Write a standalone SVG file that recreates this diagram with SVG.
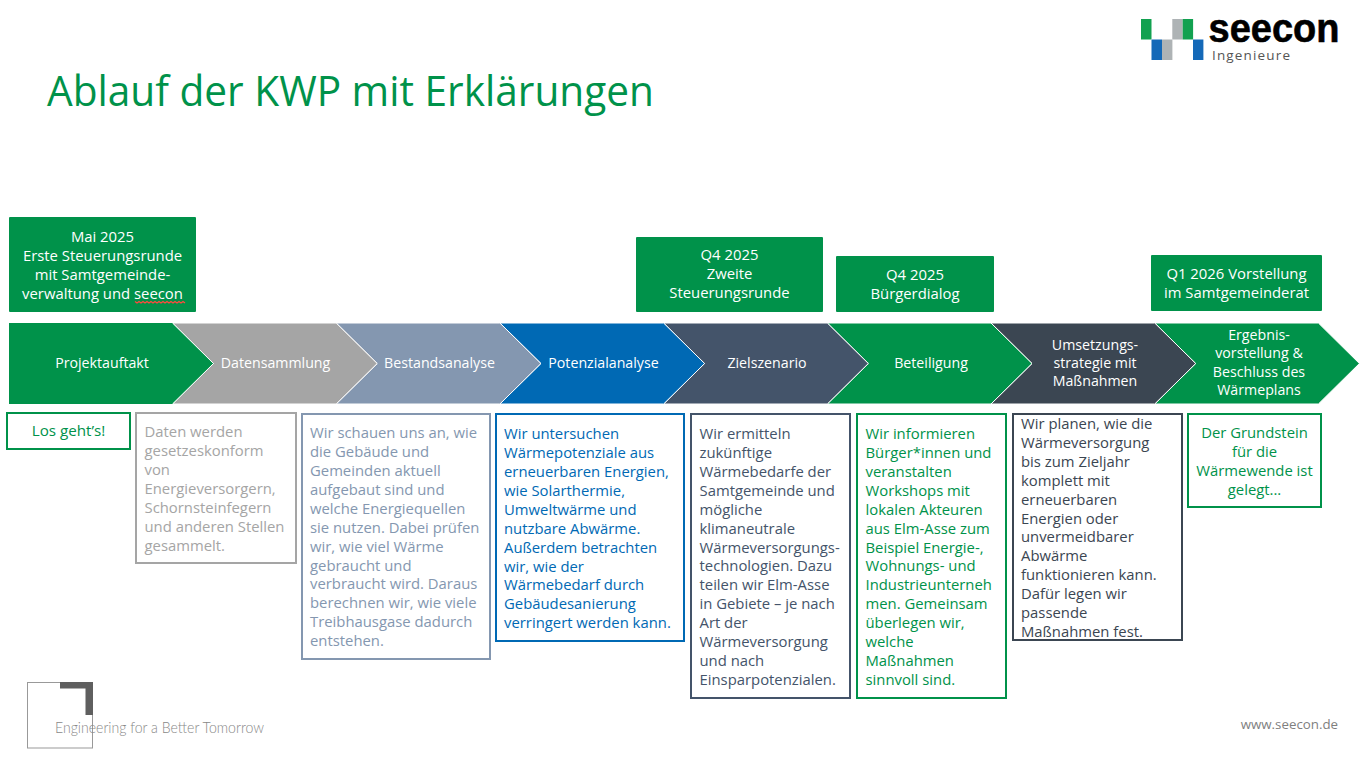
<svg xmlns="http://www.w3.org/2000/svg" width="1361" height="761" viewBox="0 0 1361 761">
<style>
text{font-family:"Open Sans","Noto Sans","Liberation Sans",sans-serif;font-size:14.85px}
.c{font-size:14.2px}
.w{fill:#fff}.m{text-anchor:middle}
.chev{stroke:#fff;stroke-width:1}
.top{fill:#00924a}
.box{fill:#fff;stroke-width:2}
.g{fill:#00924a}.bg{stroke:#00924a}
.a{fill:#a5a5a5}.ba{stroke:#a5a5a5}
.s{fill:#8497b0}.bs{stroke:#8497b0}
.b{fill:#0069b4}.bb{stroke:#0069b4}
.l{fill:#44546a}.bl{stroke:#44546a}
.d{fill:#3b4652}.bd{stroke:#3b4652}
</style>
<rect width="1361" height="761" fill="#fff"/>
<text id="title" x="47" y="106" class="g" style="font-size:41.500px;font-weight:400" textLength="607" lengthAdjust="spacingAndGlyphs">Ablauf der KWP mit Erklärungen</text>
<g id="logo">
<rect x="1141" y="19" width="10.500" height="20.500" fill="#12a150"/><rect x="1172.300" y="19" width="10.400" height="20.500" fill="#aeb3b5"/><rect x="1182.700" y="19" width="10.400" height="20.500" fill="#12a150"/>
<rect x="1151.500" y="39.500" width="10.500" height="20.500" fill="#1469b8"/><rect x="1162" y="39.500" width="10.400" height="20.500" fill="#aeb3b5"/><rect x="1193" y="39.500" width="10.400" height="20.500" fill="#1469b8"/>
<text x="1208.500" y="42" style="font-size:41px;font-weight:700;font-family:'Liberation Sans',sans-serif" fill="#000" stroke="#000" stroke-width="0.6" textLength="131" lengthAdjust="spacingAndGlyphs">seecon</text>
<text x="1212" y="59.500" style="font-size:13.500px" fill="#555" textLength="78">Ingenieure</text>
</g>
<g id="footer-mark">
<rect x="27.500" y="682.500" width="65" height="65.500" fill="none" stroke="#999"/>
<path d="M60 682H93V715H85.500V688.500H60Z" fill="#5f5f5f"/>
<text x="55" y="733" style="font-family:Lato,sans-serif;font-weight:300;font-size:16px" fill="#888" textLength="209" lengthAdjust="spacingAndGlyphs">Engineering for a Better Tomorrow</text>
</g>
<text id="url" x="1338" y="729" text-anchor="end" style="font-size:13.300px" fill="#7f7f7f">www.seecon.de</text>

<g id="connectors"></g>

<g id="step-8"><path class="chev" fill="#00924a" d="M1154.700 323H1318.400L1359.400 363.500L1318.400 404H1154.700L1195.700 363.500Z"/>
<text class="w m c"><tspan x="1259" y="340">Ergebnis-</tspan><tspan x="1259" y="358">vorstellung &amp;</tspan><tspan x="1259" y="377">Beschluss des</tspan><tspan x="1259" y="395">Wärmeplans</tspan></text></g>
<g id="step-7"><path class="chev" fill="#3b4652" d="M991 323H1154.700L1195.700 363.500L1154.700 404H991L1032 363.500Z"/>
<text class="w m c"><tspan x="1095" y="350">Umsetzungs-</tspan><tspan x="1095" y="368">strategie mit</tspan><tspan x="1095" y="386">Maßnahmen</tspan></text></g>
<g id="step-6"><path class="chev" fill="#00924a" d="M827.300 323H991L1032 363.500L991 404H827.300L868.300 363.500Z"/>
<text class="w m c" x="931" y="368">Beteiligung</text></g>
<g id="step-5"><path class="chev" fill="#44546a" d="M663.600 323H827.300L868.300 363.500L827.300 404H663.600L704.600 363.500Z"/>
<text class="w m c" x="767" y="368">Zielszenario</text></g>
<g id="step-4"><path class="chev" fill="#0069b4" d="M499.900 323H663.600L704.600 363.500L663.600 404H499.900L540.900 363.500Z"/>
<text class="w m c" x="603.500" y="368">Potenzialanalyse</text></g>
<g id="step-3"><path class="chev" fill="#8497b0" d="M336.200 323H499.900L540.900 363.500L499.900 404H336.200L377.200 363.500Z"/>
<text class="w m c" x="439.500" y="368">Bestandsanalyse</text></g>
<g id="step-2"><path class="chev" fill="#a5a5a5" d="M172.500 323H336.200L377.200 363.500L336.200 404H172.500L213.500 363.500Z"/>
<text class="w m c" x="275.500" y="368">Datensammlung</text></g>
<g id="step-1"><path d="M9 323H172.500L213.500 363.500L172.500 404H9Z" fill="#00924a"/><path class="chev" fill="none" d="M172.500 323L213.500 363.500L172.500 404"/>
<text class="w m c" x="102" y="368">Projektauftakt</text></g>

<g id="milestone-1"><rect class="top" x="9" y="217" width="187" height="95" rx="1"/>
<text class="w m"><tspan x="102.500" y="242">Mai 2025</tspan><tspan x="102.500" y="261">Erste Steuerungsrunde</tspan><tspan x="102.500" y="280">mit Samtgemeinde-</tspan><tspan x="102.500" y="299">verwaltung und seecon</tspan></text>
<path d="M135 301.500l2 1.500 2-1.500 2 1.500 2-1.500 2 1.500 2-1.500 2 1.500 2-1.500 2 1.500 2-1.500 2 1.500 2-1.500 2 1.500 2-1.500 2 1.500 2-1.500 2 1.500 2-1.500 2 1.500 2-1.500 2 1.500 2-1.500 2 1.500 2-1.500 2 1.500" fill="none" stroke="#ff4a3d" stroke-width="1.200"/></g>
<g id="milestone-2"><rect class="top" x="636" y="237" width="187" height="75" rx="1"/>
<text class="w m"><tspan x="729.500" y="260">Q4 2025</tspan><tspan x="729.500" y="279">Zweite</tspan><tspan x="729.500" y="298">Steuerungsrunde</tspan></text></g>
<g id="milestone-3"><rect class="top" x="836" y="256" width="158" height="56" rx="1"/>
<text class="w m"><tspan x="915" y="280">Q4 2025</tspan><tspan x="915" y="299">Bürgerdialog</tspan></text></g>
<g id="milestone-4"><rect class="top" x="1151" y="255" width="171" height="56" rx="1"/>
<text class="w m"><tspan x="1236.500" y="279">Q1 2026 Vorstellung</tspan><tspan x="1236.500" y="298">im Samtgemeinderat</tspan></text></g>

<g id="note-1"><rect class="box bg" x="7" y="413" width="123" height="36"/>
<text class="g m" style="font-size:15.200px" x="68.500" y="436">Los geht’s!</text></g>
<g id="note-2"><rect class="box ba" x="136" y="413" width="160" height="150"/>
<text class="a"><tspan x="144.500" y="437">Daten werden</tspan><tspan x="144.500" dy="19">gesetzeskonform</tspan><tspan x="144.500" dy="19">von</tspan><tspan x="144.500" dy="19">Energieversorgern,</tspan><tspan x="144.500" dy="19">Schornsteinfegern</tspan><tspan x="144.500" dy="19">und anderen Stellen</tspan><tspan x="144.500" dy="19">gesammelt.</tspan></text></g>
<g id="note-3"><rect class="box bs" x="302" y="414" width="188" height="245"/>
<text class="s"><tspan x="310" y="438">Wir schauen uns an, wie</tspan><tspan x="310" dy="18.930">die Gebäude und</tspan><tspan x="310" dy="18.930">Gemeinden aktuell</tspan><tspan x="310" dy="18.930">aufgebaut sind und</tspan><tspan x="310" dy="18.930">welche Energiequellen</tspan><tspan x="310" dy="18.930">sie nutzen. Dabei prüfen</tspan><tspan x="310" dy="18.930">wir, wie viel Wärme</tspan><tspan x="310" dy="18.930">gebraucht und</tspan><tspan x="310" dy="18.930">verbraucht wird. Daraus</tspan><tspan x="310" dy="18.930">berechnen wir, wie viele</tspan><tspan x="310" dy="18.930">Treibhausgase dadurch</tspan><tspan x="310" dy="18.930">entstehen.</tspan></text></g>
<g id="note-4"><rect class="box bb" x="496" y="414" width="188" height="227"/>
<text class="b"><tspan x="504" y="439">Wir untersuchen</tspan><tspan x="504" dy="18.930">Wärmepotenziale aus</tspan><tspan x="504" dy="18.930">erneuerbaren Energien,</tspan><tspan x="504" dy="18.930">wie Solarthermie,</tspan><tspan x="504" dy="18.930">Umweltwärme und</tspan><tspan x="504" dy="18.930">nutzbare Abwärme.</tspan><tspan x="504" dy="18.930">Außerdem betrachten</tspan><tspan x="504" dy="18.930">wir, wie der</tspan><tspan x="504" dy="18.930">Wärmebedarf durch</tspan><tspan x="504" dy="18.930">Gebäudesanierung</tspan><tspan x="504" dy="18.930">verringert werden kann.</tspan></text></g>
<g id="note-5"><rect class="box bl" x="691" y="414" width="159" height="284"/>
<text class="l"><tspan x="699.500" y="439">Wir ermitteln</tspan><tspan x="699.500" dy="18.920">zukünftige</tspan><tspan x="699.500" dy="18.920">Wärmebedarfe der</tspan><tspan x="699.500" dy="18.920">Samtgemeinde und</tspan><tspan x="699.500" dy="18.920">mögliche</tspan><tspan x="699.500" dy="18.920">klimaneutrale</tspan><tspan x="699.500" dy="18.920">Wärmeversorgungs-</tspan><tspan x="699.500" dy="18.920">technologien. Dazu</tspan><tspan x="699.500" dy="18.920">teilen wir Elm-Asse</tspan><tspan x="699.500" dy="18.920">in Gebiete – je nach</tspan><tspan x="699.500" dy="18.920">Art der</tspan><tspan x="699.500" dy="18.920">Wärmeversorgung</tspan><tspan x="699.500" dy="18.920">und nach</tspan><tspan x="699.500" dy="18.920">Einsparpotenzialen.</tspan></text></g>
<g id="note-6"><rect class="box bg" x="857" y="414" width="149" height="284"/>
<text class="g"><tspan x="865.500" y="439">Wir informieren</tspan><tspan x="865.500" dy="18.920">Bürger*innen und</tspan><tspan x="865.500" dy="18.920">veranstalten</tspan><tspan x="865.500" dy="18.920">Workshops mit</tspan><tspan x="865.500" dy="18.920">lokalen Akteuren</tspan><tspan x="865.500" dy="18.920">aus Elm-Asse zum</tspan><tspan x="865.500" dy="18.920">Beispiel Energie-,</tspan><tspan x="865.500" dy="18.920">Wohnungs- und</tspan><tspan x="865.500" dy="18.920">Industrieunterneh</tspan><tspan x="865.500" dy="18.920">men. Gemeinsam</tspan><tspan x="865.500" dy="18.920">überlegen wir,</tspan><tspan x="865.500" dy="18.920">welche</tspan><tspan x="865.500" dy="18.920">Maßnahmen</tspan><tspan x="865.500" dy="18.920">sinnvoll sind.</tspan></text></g>
<g id="note-7"><rect class="box bd" x="1013" y="414" width="169" height="226"/>
<text class="d"><tspan x="1021" y="429">Wir planen, wie die</tspan><tspan x="1021" dy="18.900">Wärmeversorgung</tspan><tspan x="1021" dy="18.900">bis zum Zieljahr</tspan><tspan x="1021" dy="18.900">komplett mit</tspan><tspan x="1021" dy="18.900">erneuerbaren</tspan><tspan x="1021" dy="18.900">Energien oder</tspan><tspan x="1021" dy="18.900">unvermeidbarer</tspan><tspan x="1021" dy="18.900">Abwärme</tspan><tspan x="1021" dy="18.900">funktionieren kann.</tspan><tspan x="1021" dy="18.900">Dafür legen wir</tspan><tspan x="1021" dy="18.900">passende</tspan><tspan x="1021" dy="18.900">Maßnahmen fest.</tspan></text></g>
<g id="note-8"><rect class="box bg" x="1188" y="414" width="133" height="93"/>
<text class="g m"><tspan x="1254.500" y="438">Der Grundstein</tspan><tspan x="1254.500" dy="19">für die</tspan><tspan x="1254.500" dy="19">Wärmewende ist</tspan><tspan x="1254.500" dy="19">gelegt...</tspan></text></g>
</svg>
